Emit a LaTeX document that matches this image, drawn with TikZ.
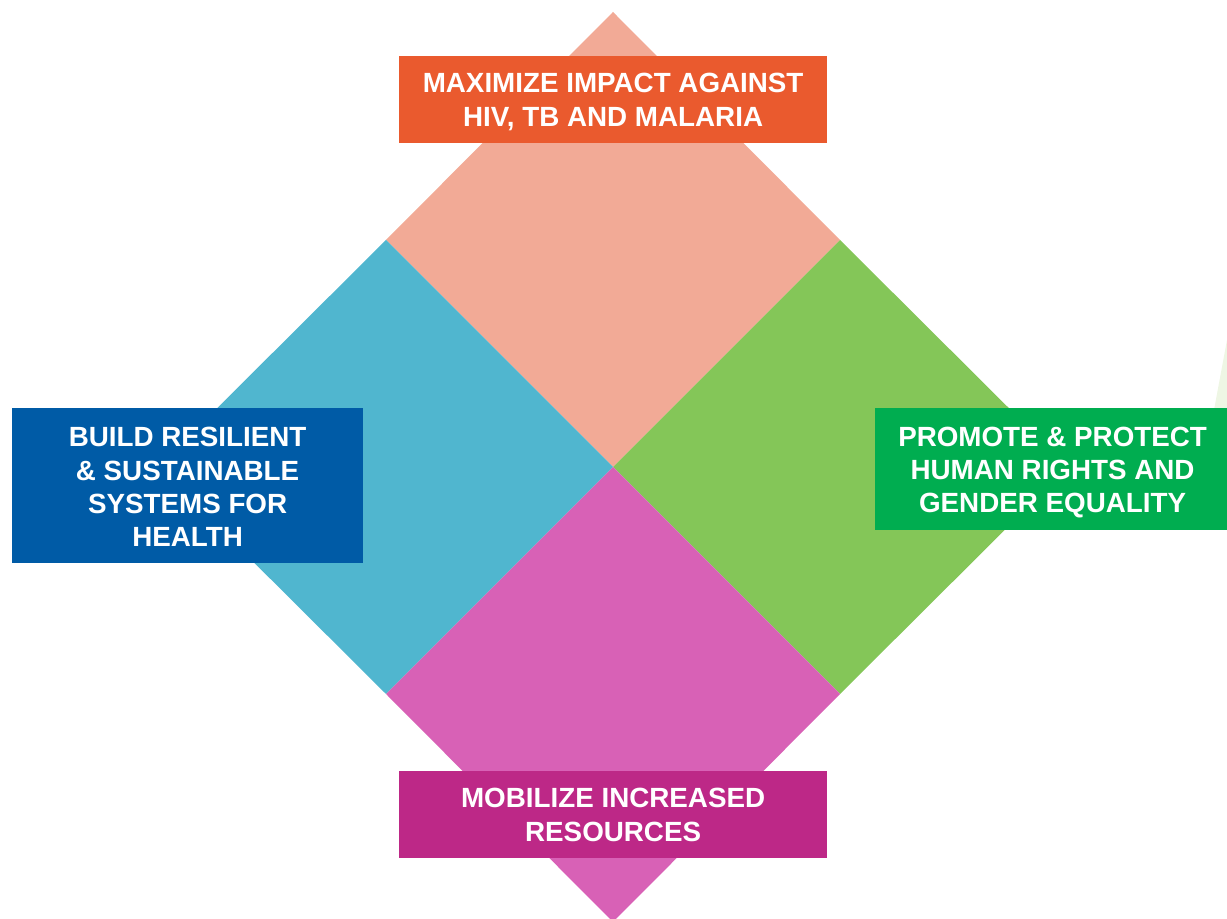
\documentclass[tikz,border=0pt]{standalone}
\usepackage{fontspec}
\setmainfont{Liberation Sans}
\definecolor{sqTop}{HTML}{F2AA96}
\definecolor{sqLeft}{HTML}{50B6CF}
\definecolor{sqRight}{HTML}{84C658}
\definecolor{sqBot}{HTML}{D861B6}
\definecolor{bxTop}{HTML}{EA5A2E}
\definecolor{bxLeft}{HTML}{005BA6}
\definecolor{bxRight}{HTML}{00AD50}
\definecolor{bxBot}{HTML}{BD2887}
\definecolor{faint}{HTML}{EEF6E4}
\tikzset{
  label box/.style={anchor=north west, inner sep=0pt, outer sep=0pt},
  label text/.style={text=white, font=\fontsize{7.9}{9.5}\selectfont\bfseries, align=center}
}
\begin{document}
\begin{tikzpicture}[x=0.01cm,y=-0.01cm]
\useasboundingbox (0,0) rectangle (1227,919);
\clip (0,0) rectangle (1227,919);
\coordinate (C) at (613,467);
\coordinate (T) at (613,12);
\coordinate (B) at (613,922);
\coordinate (L) at (158,467);
\coordinate (R) at (1068,467);
\coordinate (TL) at (386,240);
\coordinate (TR) at (840,240);
\coordinate (BL) at (386,694);
\coordinate (BR) at (840,694);
% faint shape at right edge
\fill[faint] (1227,340) -- (1214,410) -- (1227,410) -- cycle;
% four squares
\fill[sqTop] (T) -- (TR) -- (C) -- (TL) -- cycle;
\fill[sqLeft] (TL) -- (C) -- (BL) -- (L) -- cycle;
\fill[sqRight] (TR) -- (R) -- (BR) -- (C) -- cycle;
\fill[sqBot] (C) -- (BR) -- (B) -- (BL) -- cycle;
% label boxes
\node[label box, fill=bxTop, minimum width=4.28cm, minimum height=0.87cm] (top) at (399,56) {};
\node[label text] (toptext) at ([yshift=-0.025cm]top.center) {MAXIMIZE IMPACT AGAINST\\HIV, TB AND MALARIA};
\node[label box, fill=bxLeft, minimum width=3.51cm, minimum height=1.55cm] (left) at (12,408) {};
\node[label text] (lefttext) at ([yshift=-0.015cm]left.center) {BUILD RESILIENT\\\& SUSTAINABLE\\SYSTEMS FOR\\HEALTH};
\node[label box, fill=bxRight, minimum width=3.55cm, minimum height=1.22cm] (right) at (875,408) {};
\node[label text] (righttext) at ([xshift=0.0cm,yshift=-0.035cm]right.center) {PROMOTE \& PROTECT\\HUMAN RIGHTS AND\\GENDER EQUALITY};
\node[label box, fill=bxBot, minimum width=4.28cm, minimum height=0.87cm] (bot) at (399,771) {};
\node[label text] (bottext) at ([yshift=-0.005cm]bot.center) {MOBILIZE INCREASED\\RESOURCES};
\end{tikzpicture}
\end{document}
